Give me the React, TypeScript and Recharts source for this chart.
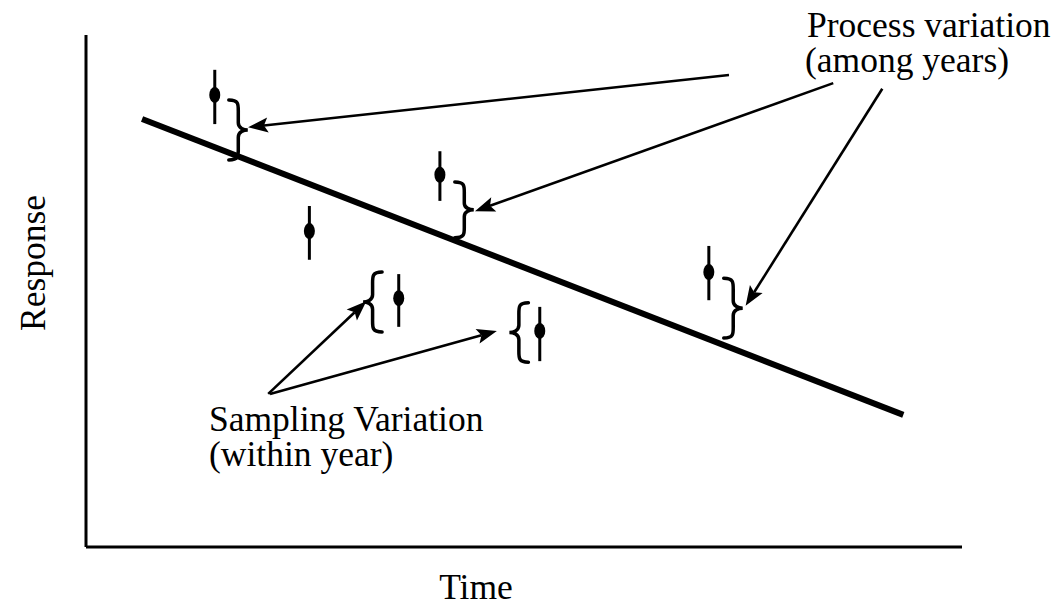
import React from 'react';
import {
  ComposedChart,
  XAxis,
  YAxis,
  Scatter,
  ErrorBar,
  ReferenceLine,
  Customized,
} from 'recharts';

// Trend (process) line endpoints
const trendTime = [6.4, 93.3];
const trendResponse = [83.6, 25.8];

// Yearly estimates with sampling error
const pointTime = [14.7, 25.5, 35.7, 40.4, 51.8, 71.1];
const pointResponse = [88.3, 61.7, 48.6, 72.7, 42.2, 53.7];
const errLow = [5.7, 5.6, 5.6, 5.1, 5.9, 5.5];
const errHigh = [4.9, 4.9, 4.7, 4.6, 4.7, 5.1];

// Braces: spine time, top & bottom response, which side the tip points
const braceTime = [16.3, 42.1, 72.8, 33.8, 50.5];
const braceTop = [87.3, 71.3, 52.5, 53.7, 47.7];
const braceBottom = [75.6, 60.4, 40.8, 42.0, 36.1];
const braceSide = ['right', 'right', 'right', 'left', 'left'];

// Arrows: from -> to
const arrowFromTime = [73.4, 85.3, 90.9, 20.8, 21.0];
const arrowFromResponse = [92.2, 90.6, 89.5, 29.9, 29.9];
const arrowToTime = [18.5, 44.4, 75.3, 32.0, 46.9];
const arrowToResponse = [82.0, 65.6, 47.1, 48.0, 42.2];

// Text labels
const processLabel = ['Process variation', '(among years)'];
const samplingLabel = ['Sampling Variation', '(within year)'];
const xLabel = 'Time';
const yLabel = 'Response';

const points = pointTime.map((t, i) => ({
  t,
  r: pointResponse[i],
  err: [errLow[i], errHigh[i]],
}));

const FONT = '"Liberation Serif", "DejaVu Serif", serif';

const EllipseDot = (props: any) => {
  const { cx, cy } = props;
  if (cx == null || cy == null) return null;
  return <ellipse cx={cx} cy={cy} rx={5.5} ry={8} fill="#000" />;
};

const makeBrace = (side: string) => (props: any) => {
  const { x1, y1, y2 } = props;
  const s = side === 'right' ? 1 : -1;
  const w = 19;
  const x = x1;
  const top = Math.min(y1, y2);
  const bot = Math.max(y1, y2);
  const h = bot - top;
  const m = (top + bot) / 2;
  const xm = x + s * w * 0.5;
  const xt = x + s * w;
  const d = [
    `M ${x} ${top}`,
    `C ${x + s * w * 0.55} ${top} ${xm} ${top + h * 0.08} ${xm} ${top + h * 0.22}`,
    `L ${xm} ${m - h * 0.12}`,
    `C ${xm} ${m - h * 0.03} ${x + s * w * 0.8} ${m} ${xt} ${m}`,
    `C ${x + s * w * 0.8} ${m} ${xm} ${m + h * 0.03} ${xm} ${m + h * 0.12}`,
    `L ${xm} ${bot - h * 0.22}`,
    `C ${xm} ${bot - h * 0.08} ${x + s * w * 0.55} ${bot} ${x} ${bot}`,
  ].join(' ');
  return <path d={d} fill="none" stroke="#000" strokeWidth={3.5} strokeLinecap="round" />;
};

const ArrowShape = (props: any) => {
  const { x1, y1, x2, y2 } = props;
  const dx = x2 - x1;
  const dy = y2 - y1;
  const len = Math.sqrt(dx * dx + dy * dy) || 1;
  const ux = dx / len;
  const uy = dy / len;
  const hl = 20;
  const hw = 7.5;
  const bx = x2 - ux * hl;
  const by = y2 - uy * hl;
  const px = -uy;
  const py = ux;
  const nx = x2 - ux * (hl - 4);
  const ny = y2 - uy * (hl - 4);
  return (
    <g>
      <line x1={x1} y1={y1} x2={nx} y2={ny} stroke="#000" strokeWidth={2.6} />
      <polygon
        points={`${x2},${y2} ${bx + px * hw},${by + py * hw} ${nx},${ny} ${bx - px * hw},${by - py * hw}`}
        fill="#000"
      />
    </g>
  );
};

const Texts = () => (
  <g fontFamily={FONT} fontSize={35.5} fill="#000">
    <text x={807} y={37}>
      <tspan x={807}>{processLabel[0]}</tspan>
      <tspan x={805} dy={35}>{processLabel[1]}</tspan>
    </text>
    <text x={209} y={431}>
      <tspan x={209}>{samplingLabel[0]}</tspan>
      <tspan x={209} dy={35}>{samplingLabel[1]}</tspan>
    </text>
    <text x={476} y={599} textAnchor="middle">{xLabel}</text>
    <text x={45} y={263} textAnchor="middle" transform="rotate(-90 45 263)">{yLabel}</text>
  </g>
);

export default function App() {
  return (
    <div style={{ position: 'absolute', left: 0, top: 0, background: '#fff' }}>
      <ComposedChart
        width={1062}
        height={613}
        margin={{ top: 35, right: 100, bottom: 65, left: 85 }}
      >
        <XAxis
          type="number"
          dataKey="t"
          domain={[0, 100]}
          allowDataOverflow
          height={1}
          tick={false}
          tickLine={false}
          axisLine={{ stroke: '#000', strokeWidth: 3 }}
        />
        <YAxis
          type="number"
          dataKey="r"
          domain={[0, 100]}
          allowDataOverflow
          width={1}
          tick={false}
          tickLine={false}
          axisLine={{ stroke: '#000', strokeWidth: 3 }}
        />
        <ReferenceLine
          segment={[
            { x: trendTime[0], y: trendResponse[0] },
            { x: trendTime[1], y: trendResponse[1] },
          ]}
          stroke="#000"
          strokeWidth={6}
          ifOverflow="visible"
        />
        {braceTime.map((t, i) => (
          <ReferenceLine
            key={`brace-${i}`}
            segment={[
              { x: t, y: braceTop[i] },
              { x: t, y: braceBottom[i] },
            ]}
            ifOverflow="visible"
            shape={makeBrace(braceSide[i])}
          />
        ))}
        {arrowFromTime.map((t, i) => (
          <ReferenceLine
            key={`arrow-${i}`}
            segment={[
              { x: t, y: arrowFromResponse[i] },
              { x: arrowToTime[i], y: arrowToResponse[i] },
            ]}
            ifOverflow="visible"
            shape={ArrowShape}
          />
        ))}
        <Scatter data={points} dataKey="r" shape={EllipseDot} isAnimationActive={false}>
          <ErrorBar
            dataKey="err"
            direction="y"
            width={0}
            stroke="#000"
            strokeWidth={3}
            isAnimationActive={false}
          />
        </Scatter>
        <Customized component={Texts} />
      </ComposedChart>
    </div>
  );
}
